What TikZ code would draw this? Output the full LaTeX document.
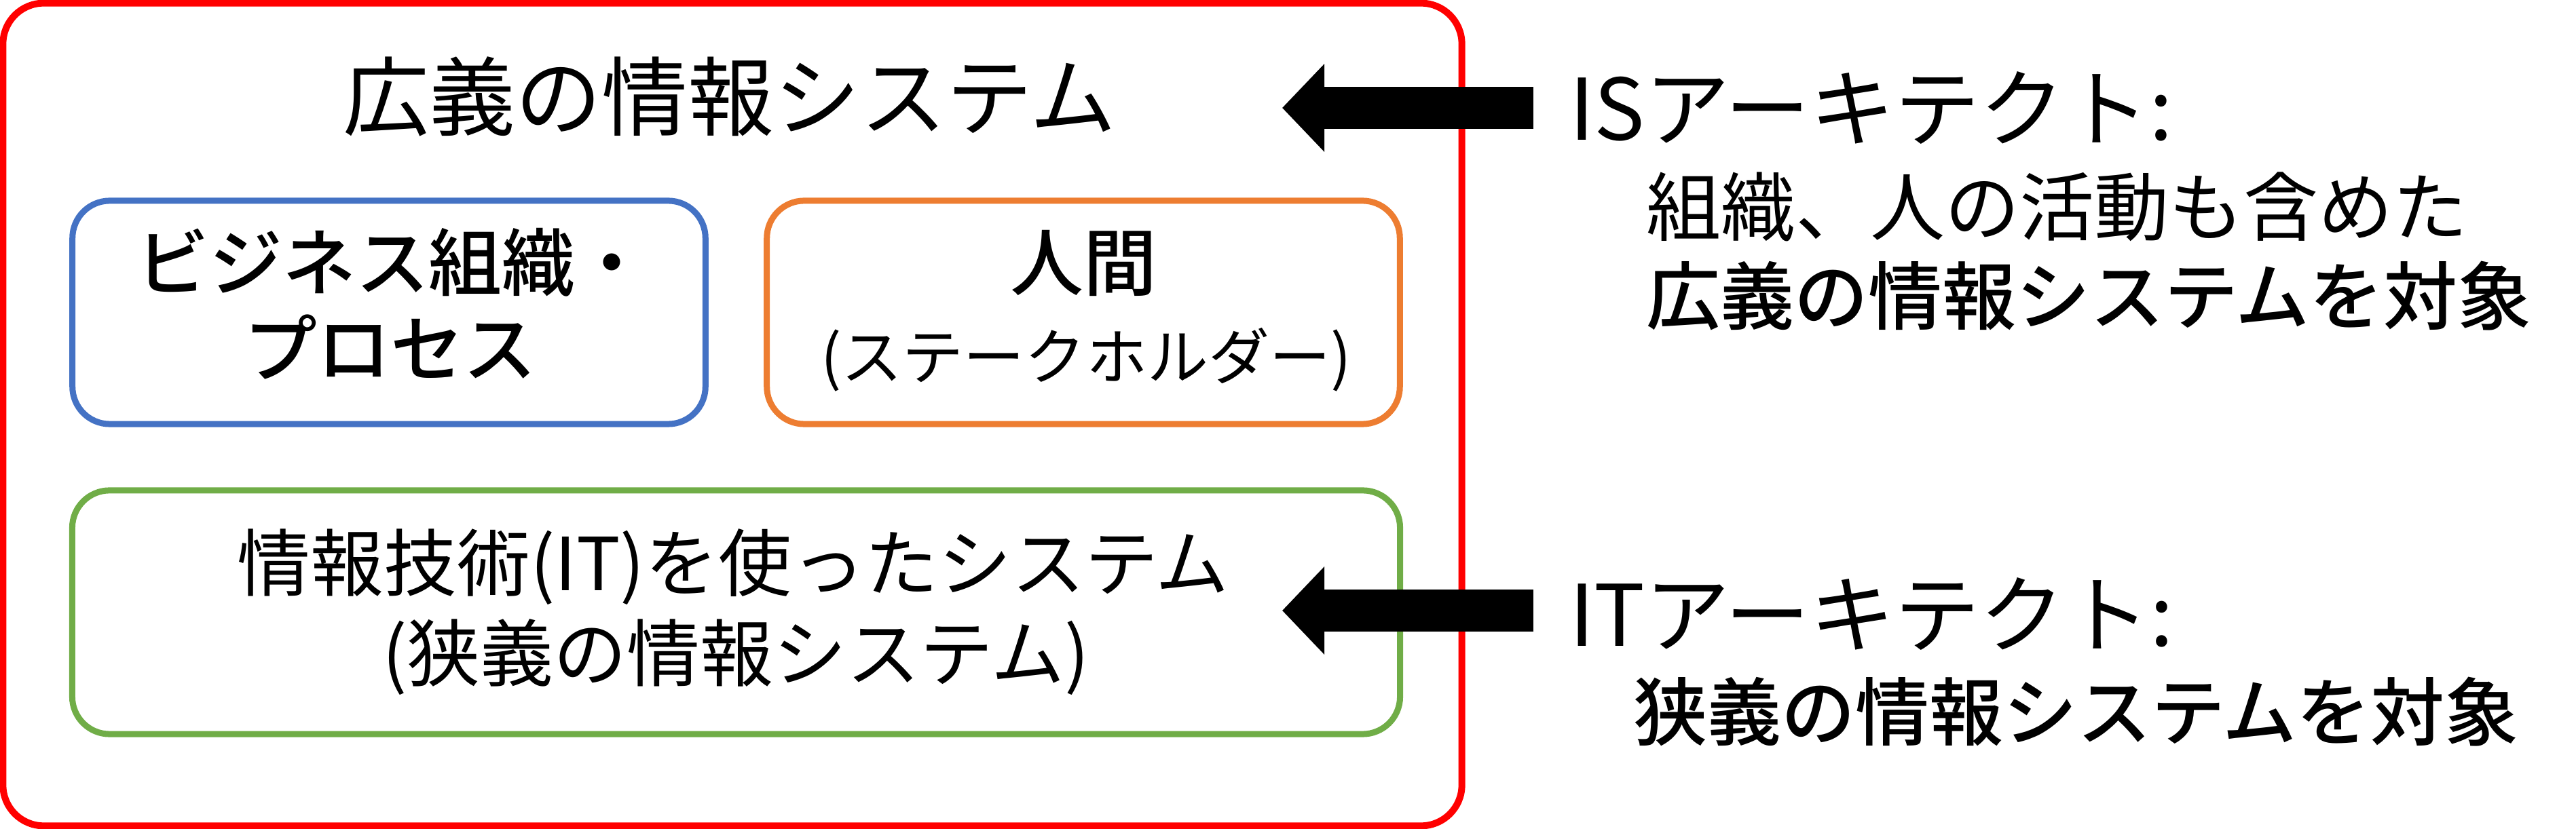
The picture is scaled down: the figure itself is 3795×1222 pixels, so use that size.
\documentclass[tikz,border=0pt]{standalone}
\usepackage{fontspec}
\setmainfont{Noto Sans CJK JP}
\newfontfamily\medfont{Noto Sans CJK JP Medium}
\usetikzlibrary{arrows.meta}
\definecolor{cred}{HTML}{FF0000}
\definecolor{cblue}{HTML}{4472C4}
\definecolor{corange}{HTML}{ED7D31}
\definecolor{cgreen}{HTML}{70AD47}
\newcommand\fsz[1]{\fontsize{#1}{#1}\selectfont}
\begin{document}
\begin{tikzpicture}[x=0.01cm,y=-0.01cm,
  frame/.style={draw, rectangle, inner sep=0pt, outer sep=0pt},
  lbl/.style={inner sep=0pt, outer sep=0pt, anchor=base},
  lblw/.style={inner sep=0pt, outer sep=0pt, anchor=base west},
  blockarrow/.style={draw=black, line width=0.61cm, -{Triangle[length=0.62cm, width=1.26cm]}}]
\useasboundingbox (0,0) rectangle (3795,1222);
% frames
\node[frame, draw=cred, line width=0.1cm, rounded corners=0.6cm,
      minimum width=21.48cm, minimum height=12.12cm] (wide) at (1079,611) {};
\node[frame, draw=cblue, line width=0.09cm, rounded corners=0.55cm,
      minimum width=9.32cm, minimum height=3.29cm] (biz) at (573,460.5) {};
\node[frame, draw=corange, line width=0.09cm, rounded corners=0.55cm,
      minimum width=9.32cm, minimum height=3.29cm] (human) at (1596,460.5) {};
\node[frame, draw=cgreen, line width=0.09cm, rounded corners=0.55cm,
      minimum width=19.55cm, minimum height=3.59cm] (itsys) at (1084.5,902.5) {};
% texts inside
\node[lbl, font=\fsz{36.1pt}] (title) at (1075,191) {広義の情報システム};
\node[lbl, font=\fsz{30.7pt}\medfont] (biz1) at (578,428) {ビジネス組織・};
\node[lbl, font=\fsz{30.7pt}\medfont] (biz2) at (575,555) {プロセス};
\node[lbl, font=\fsz{30.7pt}\medfont] (hum1) at (1596,428) {人間};
\node[lbl, font=\fsz{25.6pt}] (hum2) at (1600,560) {(ステークホルダー)};
\node[lbl, font=\fsz{30.7pt}] (it1) at (1080,871) {情報技術(IT)を使ったシステム};
\node[lbl, font=\fsz{30.7pt}] (it2) at (1084,1004) {(狭義の情報システム)};
% texts outside
\node[lblw, font=\fsz{35.6pt}] (isarch) at (2312,207) {ISアーキテクト:};
\node[lblw, font=\fsz{31.3pt}] (isdesc1) at (2425,347) {組織、人の活動も含めた};
\node[lblw, font=\fsz{31pt}\medfont] (isdesc2) at (2425,478) {広義の情報システムを対象};
\node[lblw, font=\fsz{35.6pt}] (itarch) at (2312,953) {ITアーキテクト:};
\node[lblw, font=\fsz{31pt}\medfont] (itdesc) at (2406,1091) {狭義の情報システムを対象};
% arrows
\coordinate (isfrom) at (2259,159);
\coordinate (isto) at (1889,159);
\coordinate (itfrom) at (2259,900);
\coordinate (itto) at (1889,900);
\draw[blockarrow] (isfrom) -- (isto);
\draw[blockarrow] (itfrom) -- (itto);
\end{tikzpicture}
\end{document}
